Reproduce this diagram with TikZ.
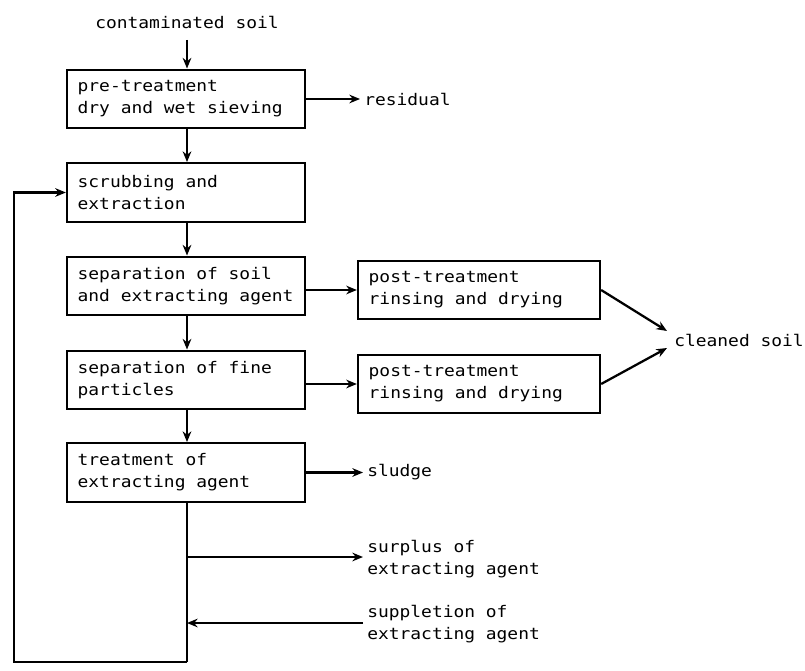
\documentclass[tikz,border=0pt]{standalone}
\usepackage{fontspec}
\usetikzlibrary{arrows.meta}
\newfontfamily\flowfont{DejaVu Sans Mono}[FakeStretch=1.12]
% fixed-pitch spacing so blanks match the stretched glyph width
\newcommand\flowtext{\flowfont\fontsize{12}{16.5}\selectfont
  \spaceskip=8.09pt plus 0pt minus 0pt\xspaceskip=\spaceskip}
\begin{document}
\begin{tikzpicture}[x=0.75pt,y=-0.75pt,
  every node/.style={font=\flowtext},
  stage/.style={draw,line width=1.7pt,minimum height=44pt,text width=162.5pt,
    inner xsep=8pt,align=flush left,anchor=center},
  post/.style={stage,text width=165.5pt},
  lbl/.style={align=flush left,anchor=west,inner xsep=3pt},
  flow/.style={line width=1.7pt,-{Stealth[length=8pt,width=6.5pt]}},
  line/.style={line width=1.7pt}]
\useasboundingbox (0,0) rectangle (805,670);

% main column
\node (src) at (187,22) {contaminated soil};
\node[stage] (b1) at (186,99) {pre-treatment\\dry and wet sieving};
\node[stage] (b2) at (186,192.5) {scrubbing and\\extraction};
\node[stage] (b3) at (186,286) {separation of soil\\and extracting agent};
\node[stage] (b4) at (186,380) {separation of fine\\particles};
\node[stage] (b5) at (186,472.5) {treatment of\\extracting agent};

% post-treatment column
\node[post] (p1) at (479,290) {post-treatment\\rinsing and drying};
\node[post] (p2) at (479,384) {post-treatment\\rinsing and drying};

% outputs and inputs
\node[lbl] (res) at (360,99) {residual};
\node[lbl] (sludge) at (363,472.5) {sludge};
\node[lbl] (clean) at (670,340) {cleaned soil};
\node[lbl] (surplus) at (363,559) {surplus of\\extracting agent};
\node[lbl] (supp) at (363,624) {suppletion of\\extracting agent};

% junctions
\coordinate (srcbot) at (187,40);
\coordinate (j1) at (187,557);
\coordinate (j2) at (187,623);
\coordinate (jb) at (187,662);
\coordinate (lb) at (14,662);
\coordinate (lt) at (14,192.5);
\coordinate (c1) at (667,331);
\coordinate (c2) at (667,348);

% connectors
\draw[flow] (srcbot) -- (b1.north -| srcbot);
\draw[flow] (b1.south -| srcbot) -- (b2.north -| srcbot);
\draw[flow] (b2.south -| srcbot) -- (b3.north -| srcbot);
\draw[flow] (b3.south -| srcbot) -- (b4.north -| srcbot);
\draw[flow] (b4.south -| srcbot) -- (b5.north -| srcbot);
\draw[flow] (b1.east) -- (res.west);
\draw[flow] (b3.east |- p1) -- (p1.west);
\draw[flow] (b4.east |- p2) -- (p2.west);
\draw[flow] (b5.east) -- (sludge.west);
\draw[flow] (p1.east) -- (c1);
\draw[flow] (p2.east) -- (c2);
\draw[flow] (j1) -- (j1 -| surplus.west);
\draw[flow] (j2 -| supp.west) -- (j2);
\draw[line] (b5.south -| srcbot) -- (jb);
\draw[flow] (jb) -- (lb) -- (lt) -- (b2.west);
\end{tikzpicture}
\end{document}
